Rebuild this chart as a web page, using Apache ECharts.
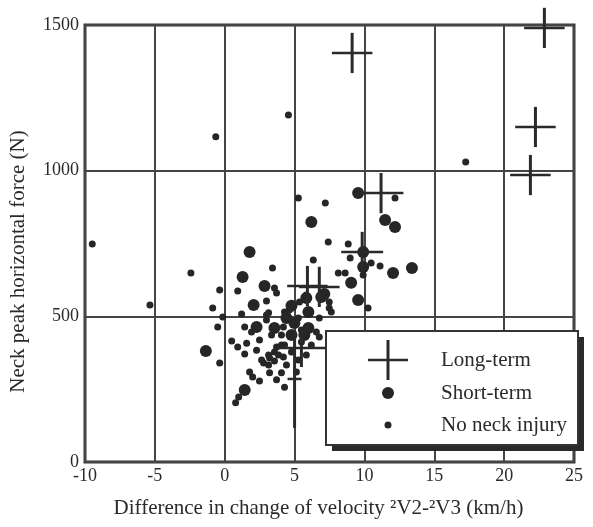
<!DOCTYPE html>
<html>
<head>
<meta charset="utf-8">
<script src="https://cdn.jsdelivr.net/npm/echarts@6/dist/echarts.min.js"></script>
<style>
html,body{margin:0;padding:0;background:#fff;}
#chart{width:593px;height:527px;}
</style>
</head>
<body>
<div id="chart"></div>
<script>
// Axis ranges and tick step
const xRange = [-10, 25];
const yRange = [0, 1500];
const xStep = 5;
const yStep = 500;

// Long-term: [x, y, half-width (km/h), half-height (N)]
const longTerm = [
  [9.12, 1404, 1.45, 69],
  [22.88, 1490, 1.45, 69],
  [22.24, 1150, 1.45, 69],
  [21.88, 985, 1.45, 69],
  [11.19, 923, 1.6, 69],
  [9.84, 721, 1.5, 69],
  [5.92, 604, 1.45, 69],
  [6.77, 601, 1.45, 69],
  [5.49, 391, 1.8, 65],
  [5.0, 285, 0.5, 168]
];

// Short-term injuries: [x, y]
const shortTerm = [
  [1.78, 721], [6.2, 824], [9.55, 923], [11.48, 831], [12.19, 807],
  [9.91, 721], [1.28, 635], [2.85, 604], [2.07, 539], [2.28, 463],
  [-1.35, 381], [1.43, 247], [12.05, 649], [13.4, 666], [9.05, 615],
  [9.55, 556], [7.13, 577], [5.84, 563], [5.99, 515], [4.78, 536],
  [4.99, 477], [3.56, 460], [4.78, 436], [5.99, 460], [5.7, 436],
  [9.91, 669], [6.91, 566], [4.42, 494]
];

// No neck injury: [x, y]
const noInjury = [
  [-9.48, 748], [-5.35, 539], [-0.64, 1116], [4.56, 1191], [5.27, 906],
  [17.25, 1030], [-2.42, 649], [-0.36, 590], [-0.86, 529], [-0.14, 498],
  [-0.5, 463], [-0.36, 340], [0.5, 415], [0.93, 395], [1.43, 371],
  [0.93, 587], [3.42, 666], [3.56, 597], [3.71, 580], [2.99, 553],
  [1.21, 508], [1.43, 463], [1.78, 309], [2.0, 292], [2.49, 278],
  [1.0, 223], [0.78, 203], [4.28, 257], [3.71, 282], [3.21, 306],
  [4.06, 306], [7.2, 889], [7.41, 755], [8.84, 748], [8.98, 700],
  [6.34, 693], [12.19, 906], [10.48, 683], [11.12, 673], [8.13, 649],
  [8.62, 649], [9.91, 642], [10.26, 529], [7.48, 549], [7.63, 515],
  [2.99, 505], [4.28, 515], [5.35, 549], [6.77, 494], [7.48, 529],
  [5.27, 494], [4.06, 436], [6.77, 429], [5.49, 412], [4.06, 402],
  [3.56, 378], [3.21, 357], [3.85, 367], [4.78, 378], [2.64, 350],
  [5.27, 350], [2.78, 340], [3.14, 333], [3.56, 347], [3.14, 367],
  [4.2, 360], [3.71, 395], [4.28, 402], [6.56, 446], [5.84, 573],
  [4.63, 522], [4.2, 463], [3.14, 512], [2.99, 487], [1.92, 446],
  [2.49, 419], [3.35, 436], [5.49, 453], [6.2, 402], [5.13, 309],
  [5.84, 367], [2.28, 384], [4.42, 333], [1.57, 408]
];

const legendLabels = ['Long-term', 'Short-term', 'No neck injury'];
const xTitle = 'Difference in change of velocity \u00B2V2-\u00B2V3 (km/h)';
const yTitle = 'Neck peak horizontal force (N)';

const ink = '#2a2a2a';
const dot = '#262626';
const serif = '"Liberation Serif", "DejaVu Serif", serif';

const chart = echarts.init(document.getElementById('chart'), null, {renderer: 'canvas'});

function crossItem(params, api) {
  const x = api.value(0), y = api.value(1), dx = api.value(2), dy = api.value(3);
  const l = api.coord([x - dx, y]), r = api.coord([x + dx, y]);
  const t = api.coord([x, y + dy]), b = api.coord([x, y - dy]);
  return {
    type: 'group',
    children: [
      {type: 'line', shape: {x1: l[0], y1: l[1], x2: r[0], y2: r[1]}, style: {stroke: ink, lineWidth: 2.5}},
      {type: 'line', shape: {x1: t[0], y1: t[1], x2: b[0], y2: b[1]}, style: {stroke: ink, lineWidth: 3}}
    ]
  };
}

const lgX = 326, lgY = 331, lgW = 252, lgH = 114;
const symX = 388;
const rowY = [360, 393, 425];

chart.setOption({
  animation: false,
  backgroundColor: '#fff',
  grid: {
    left: 83, right: 19, top: 25, bottom: 65,
    show: true, borderColor: '#333', borderWidth: 3, backgroundColor: 'transparent'
  },
  xAxis: {
    type: 'value', min: xRange[0], max: xRange[1], interval: xStep,
    axisLine: {show: false}, axisTick: {show: false},
    splitLine: {show: true, lineStyle: {color: '#444', width: 2}},
    axisLabel: {color: ink, fontFamily: serif, fontSize: 18, margin: 5, formatter: v => String(v)},
    name: xTitle, nameLocation: 'middle', nameGap: 36,
    nameTextStyle: {color: ink, fontFamily: serif, fontSize: 21, padding: [0, 22, 0, 0]}
  },
  yAxis: {
    type: 'value', min: yRange[0], max: yRange[1], interval: yStep,
    axisLine: {show: false}, axisTick: {show: false},
    splitLine: {show: true, lineStyle: {color: '#444', width: 2}},
    axisLabel: {color: ink, fontFamily: serif, fontSize: 18, margin: 6, padding: [8, 0, 0, 0], formatter: v => String(v)},
    name: yTitle, nameLocation: 'middle', nameGap: 56, nameRotate: 90,
    nameTextStyle: {color: ink, fontFamily: serif, fontSize: 21, padding: [0, 36, 0, 0]}
  },
  series: [
    {
      type: 'scatter', name: legendLabels[2], data: noInjury, symbolSize: 7,
      itemStyle: {color: dot, opacity: 1}, z: 3
    },
    {
      type: 'scatter', name: legendLabels[1], data: shortTerm, symbolSize: 12,
      itemStyle: {color: dot, opacity: 1}, z: 4
    },
    {
      type: 'custom', name: legendLabels[0], data: longTerm, renderItem: crossItem,
      encode: {x: 0, y: 1}, clip: false, z: 5
    }
  ],
  graphic: [
    {type: 'rect', shape: {x: lgX + 6, y: lgY + 6, width: lgW, height: lgH}, style: {fill: '#2a2a2a'}, z: 100},
    {type: 'rect', shape: {x: lgX, y: lgY, width: lgW, height: lgH}, style: {fill: '#fff', stroke: '#333', lineWidth: 2}, z: 101},
    {type: 'line', shape: {x1: symX - 20, y1: rowY[0], x2: symX + 20, y2: rowY[0]}, style: {stroke: ink, lineWidth: 2.5}, z: 102},
    {type: 'line', shape: {x1: symX, y1: rowY[0] - 20, x2: symX, y2: rowY[0] + 20}, style: {stroke: ink, lineWidth: 3}, z: 102},
    {type: 'circle', shape: {cx: symX, cy: rowY[1], r: 6}, style: {fill: dot}, z: 102},
    {type: 'circle', shape: {cx: symX, cy: rowY[2], r: 3.5}, style: {fill: dot}, z: 102},
    {type: 'text', x: 441, y: rowY[0], style: {text: legendLabels[0], fill: ink, font: '21px ' + serif, textVerticalAlign: 'middle'}, z: 102},
    {type: 'text', x: 441, y: rowY[1], style: {text: legendLabels[1], fill: ink, font: '21px ' + serif, textVerticalAlign: 'middle'}, z: 102},
    {type: 'text', x: 441, y: rowY[2], style: {text: legendLabels[2], fill: ink, font: '21px ' + serif, textVerticalAlign: 'middle'}, z: 102}
  ]
});
</script>
</body>
</html>
